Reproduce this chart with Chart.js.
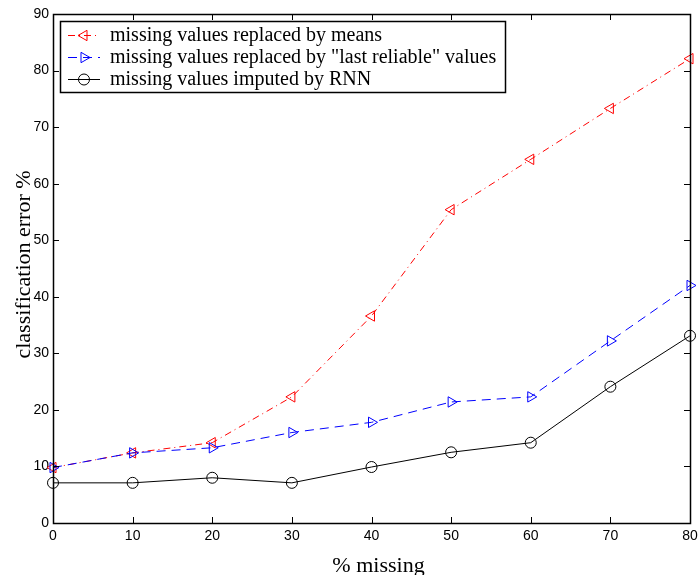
<!DOCTYPE html>
<html>
<head>
<meta charset="utf-8">
<script src="https://cdn.jsdelivr.net/npm/chart.js@4.4.1/dist/chart.umd.min.js"></script>
<style>
html,body{margin:0;padding:0;background:#fff;}
#wrap{width:698px;height:575px;}
</style>
</head>
<body>
<div id="wrap"><canvas id="c" width="698" height="575"></canvas></div>
<script>
const missingPct = [0, 10, 20, 30, 40, 50, 60, 70, 80];
const meansError = [9.8, 12.4, 14.2, 22.3, 36.6, 55.4, 64.3, 73.3, 82.1];
const lastReliableError = [9.8, 12.4, 13.3, 16.0, 17.8, 21.4, 22.3, 32.2, 42.0];
const rnnError = [7.1, 7.1, 8.0, 7.1, 9.9, 12.5, 14.2, 24.1, 33.1];
const seriesLabels = [
  'missing values replaced by means',
  'missing values replaced by "last reliable" values',
  'missing values imputed by RNN'
];
const xTitle = '% missing';
const yTitle = 'classification error %';
const xTicks = [0, 10, 20, 30, 40, 50, 60, 70, 80];
const yTicks = [0, 10, 20, 30, 40, 50, 60, 70, 80, 90];

const toPts = (ys) => missingPct.map((x, i) => ({x: x, y: ys[i]}));

const styles = [
  {color: '#ff0000', dash: [7, 4, 1, 4], pointStyle: 'triangle', rotation: -90, radius: 6},
  {color: '#0000ff', dash: [9, 6], pointStyle: 'triangle', rotation: 90, radius: 6},
  {color: '#000000', dash: [], pointStyle: 'circle', rotation: 0, radius: 5.5}
];
const seriesData = [meansError, lastReliableError, rnnError];

const datasets = seriesData.map((d, i) => ({
  label: seriesLabels[i],
  data: toPts(d),
  borderColor: styles[i].color,
  backgroundColor: 'rgba(0,0,0,0)',
  borderWidth: 1,
  borderDash: styles[i].dash,
  pointStyle: styles[i].pointStyle,
  rotation: styles[i].rotation,
  pointRadius: styles[i].radius,
  pointBorderWidth: 1,
  pointBorderColor: styles[i].color,
  pointBackgroundColor: 'rgba(0,0,0,0)',
  tension: 0,
  clip: false
}));
datasets.reverse();

const TITLE_FONT = '22px "Liberation Serif", "Times New Roman", serif';

const framePlugin = {
  id: 'frame',
  afterDatasetsDraw(chart) {
    const {ctx, chartArea: a, scales} = chart;
    ctx.save();
    ctx.strokeStyle = '#000';
    ctx.lineWidth = 1;
    ctx.setLineDash([]);
    ctx.beginPath();
    const tl = 6;
    xTicks.forEach(v => {
      const px = Math.round(scales.x.getPixelForValue(v)) + 0.5;
      ctx.moveTo(px, a.bottom); ctx.lineTo(px, a.bottom - tl);
      ctx.moveTo(px, a.top); ctx.lineTo(px, a.top + tl);
    });
    yTicks.forEach(v => {
      const py = Math.round(scales.y.getPixelForValue(v)) + 0.5;
      ctx.moveTo(a.left, py); ctx.lineTo(a.left + tl, py);
      ctx.moveTo(a.right, py); ctx.lineTo(a.right - tl, py);
    });
    ctx.stroke();
    ctx.lineWidth = 1.5;
    ctx.strokeRect(Math.round(a.left) + 0.5, Math.round(a.top) + 0.5, Math.round(a.right - a.left), Math.round(a.bottom - a.top));
    ctx.restore();
  },
  afterDraw(chart) {
    const {ctx, chartArea: a} = chart;
    // axis titles
    ctx.save();
    ctx.fillStyle = '#000';
    ctx.font = TITLE_FONT;
    ctx.textAlign = 'center';
    ctx.textBaseline = 'alphabetic';
    ctx.fillText(xTitle, (a.left + a.right) / 2 + 7, 572);
    ctx.translate(30, (a.top + a.bottom) / 2 - 4);
    ctx.rotate(-Math.PI / 2);
    ctx.fillText(yTitle, 0, 0);
    ctx.restore();
    // legend
    const bx = a.left + 7, by = a.top + 7, bw = 445, bh = 71;
    ctx.save();
    ctx.fillStyle = '#fff';
    ctx.fillRect(bx, by, bw, bh);
    ctx.strokeStyle = '#000';
    ctx.lineWidth = 1.5;
    ctx.setLineDash([]);
    ctx.strokeRect(bx + 0.5, by + 0.5, bw, bh);
    ctx.textBaseline = 'middle';
    const rows = [by + 14, by + 36, by + 58];
    [0, 1, 2].forEach(i => {
      const y = rows[i] + 0.5;
      const s = styles[i];
      ctx.strokeStyle = s.color;
      ctx.lineWidth = 1;
      ctx.setLineDash(s.dash);
      ctx.beginPath();
      ctx.moveTo(bx + 8, y); ctx.lineTo(bx + 40, y);
      ctx.stroke();
      ctx.setLineDash([]);
      ctx.fillStyle = 'rgba(0,0,0,0)';
      ctx.strokeStyle = s.color;
      Chart.helpers.drawPoint(ctx, {pointStyle: s.pointStyle, rotation: s.rotation, radius: s.radius, borderWidth: 1}, bx + 24, y);
      ctx.fillStyle = '#000';
      ctx.font = '20px "Liberation Serif", "Times New Roman", serif';
      ctx.fillText(seriesLabels[i], bx + 50, rows[i] + 1);
    });
    ctx.restore();
  }
};

new Chart(document.getElementById('c'), {
  type: 'line',
  data: {datasets: datasets},
  options: {
    responsive: false,
    animation: false,
    layout: {padding: {top: 14, right: 8, left: 0, bottom: 0}},
    plugins: {legend: {display: false}, tooltip: {enabled: false}},
    scales: {
      x: {
        type: 'linear', min: 0, max: 80,
        afterBuildTicks(scale) { scale.ticks = xTicks.map(v => ({value: v})); },
        afterFit(scale) { scale.height = 52; scale.paddingLeft = 0; scale.paddingRight = 0; },
        grid: {display: false, drawTicks: false, tickLength: 0},
        border: {display: false},
        ticks: {color: '#000', padding: 5, maxRotation: 0, font: {family: '"Liberation Sans", Arial, sans-serif', size: 14}},
        title: {display: false}
      },
      y: {
        type: 'linear', min: 0, max: 90,
        afterBuildTicks(scale) { scale.ticks = yTicks.map(v => ({value: v})); },
        afterFit(scale) { scale.width = 53; scale.paddingTop = 0; scale.paddingBottom = 0; },
        grid: {display: false, drawTicks: false, tickLength: 0},
        border: {display: false},
        ticks: {color: '#000', padding: 4, font: {family: '"Liberation Sans", Arial, sans-serif', size: 14}},
        title: {display: false}
      }
    }
  },
  plugins: [framePlugin]
});
</script>
</body>
</html>
